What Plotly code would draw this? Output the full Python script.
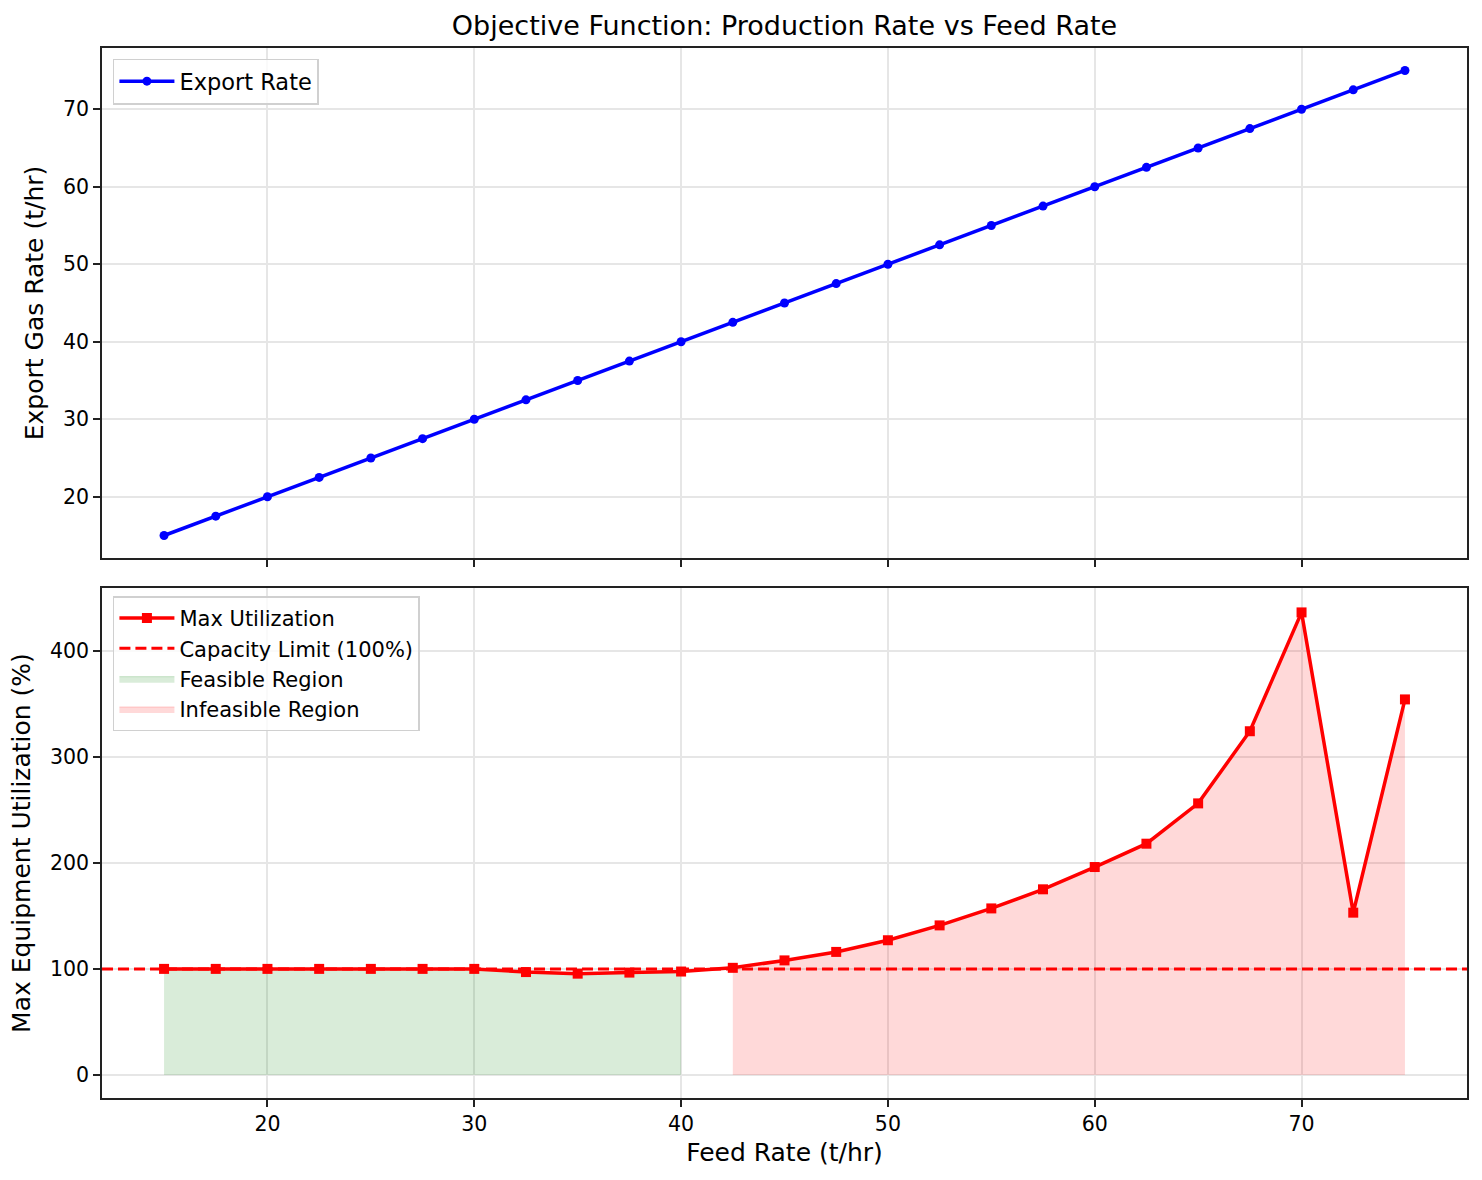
import numpy as np
import plotly.graph_objects as go
from plotly.subplots import make_subplots

feed_rate = [15, 17.5, 20, 22.5, 25, 27.5, 30, 32.5, 35, 37.5, 40, 42.5, 45, 47.5,
             50, 52.5, 55, 57.5, 60, 62.5, 65, 67.5, 70, 72.5, 75]
export_rate = [15, 17.5, 20, 22.5, 25, 27.5, 30, 32.5, 35, 37.5, 40, 42.5, 45, 47.5,
               50, 52.5, 55, 57.5, 60, 62.5, 65, 67.5, 70, 72.5, 75]
max_util = [100, 100, 100, 100, 100, 100, 100, 97, 95.5, 96.5, 97.5, 101, 108, 116,
            127, 141, 157, 175, 196, 218, 256, 324, 436, 153, 354]
capacity_limit = 100

x_ticks = [20, 30, 40, 50, 60, 70]
y1_ticks = [20, 30, 40, 50, 60, 70]
y2_ticks = [0, 100, 200, 300, 400]

fr = np.array(feed_rate)
mu = np.array(max_util)
feas = mu <= capacity_limit
infeas = mu > capacity_limit

FONT = "DejaVu Sans"

fig = make_subplots(rows=2, cols=1, shared_xaxes=True, vertical_spacing=0.0286)

# Top: export rate
fig.add_trace(go.Scatter(x=feed_rate, y=export_rate, mode="lines+markers",
                         name="Export Rate",
                         line=dict(color="blue", width=3.5),
                         marker=dict(color="blue", size=9, symbol="circle"),
                         legend="legend", showlegend=True), row=1, col=1)

# Bottom fills
fig.add_trace(go.Scatter(x=fr[feas], y=mu[feas], mode="lines", fill="tozeroy",
                         name="Feasible Region", legendgroup="g3",
                         line=dict(color="rgba(0,128,0,0.2)", width=1),
                         fillcolor="rgba(0,128,0,0.15)",
                         legend="legend2", legendrank=3), row=2, col=1)
fig.add_trace(go.Scatter(x=fr[infeas], y=mu[infeas], mode="lines", fill="tozeroy",
                         name="Infeasible Region", legendgroup="g4",
                         line=dict(color="rgba(255,0,0,0.18)", width=1),
                         fillcolor="rgba(255,0,0,0.15)",
                         legend="legend2", legendrank=4), row=2, col=1)

# capacity limit (legend entry via shape)
fig.add_shape(type="line", xref="x2 domain", x0=0, x1=1, yref="y2",
              y0=capacity_limit, y1=capacity_limit,
              line=dict(color="red", width=3, dash="11px,5px"),
              showlegend=True, name="Capacity Limit (100%)", legend="legend2",
              legendgroup="g2", legendrank=2, layer="above")

fig.add_trace(go.Scatter(x=feed_rate, y=max_util, mode="lines+markers",
                         name="Max Utilization", legendgroup="g1",
                         line=dict(color="red", width=3.5),
                         marker=dict(color="red", size=10, symbol="square"),
                         legend="legend2", legendrank=1), row=2, col=1)

axis_common = dict(showline=True, linecolor="#222", linewidth=1.6, mirror=True,
                   ticks="outside", ticklen=7, tickwidth=1.6, tickcolor="#222",
                   showgrid=True, gridcolor="#e6e6e6", gridwidth=1.5,
                   zeroline=False,
                   tickfont=dict(family=FONT, size=20.5, color="black"))

fig.update_xaxes(**axis_common, range=[12, 78], tickvals=x_ticks)
fig.update_xaxes(showticklabels=False, row=1, col=1)
fig.update_xaxes(title=dict(text="Feed Rate (t/hr)", font=dict(family=FONT, size=25, color="black"),
                            standoff=8), row=2, col=1)
fig.update_yaxes(**axis_common)
fig.update_yaxes(range=[12.1, 77.9], tickvals=y1_ticks,
                 title=dict(text="Export Gas Rate (t/hr)", font=dict(family=FONT, size=25, color="black"),
                            standoff=12), row=1, col=1)
fig.update_yaxes(range=[-21.7, 459], tickvals=y2_ticks,
                 title=dict(text="Max Equipment Utilization (%)", font=dict(family=FONT, size=25, color="black"),
                            standoff=12), row=2, col=1)

fig.update_layout(
    width=1482, height=1180,
    margin=dict(l=102, r=15, t=48, b=82),
    paper_bgcolor="white", plot_bgcolor="white",
    showlegend=True,
    font=dict(family=FONT, color="black"),
    title=dict(text="Objective Function: Production Rate vs Feed Rate",
               x=0.5, xref="paper", xanchor="center", y=1 - 26 / 1180, yanchor="middle",
               font=dict(family=FONT, size=27, color="black")),
    legend=dict(x=0.008, y=0.99, xanchor="left", yanchor="top",
                bgcolor="rgba(255,255,255,0.8)", bordercolor="#d0d0d0", borderwidth=1.5,
                itemwidth=55,
                font=dict(family=FONT, size=22.5, color="black")),
    legend2=dict(x=0.008, y=0.4867 - 0.009, xanchor="left", yanchor="top",
                 xref="paper", yref="paper",
                 bgcolor="rgba(255,255,255,0.8)", bordercolor="#d0d0d0", borderwidth=1.5,
                 itemwidth=55,
                 font=dict(family=FONT, size=21, color="black"),
                 tracegroupgap=0),
)

fig.write_html("out.html")
